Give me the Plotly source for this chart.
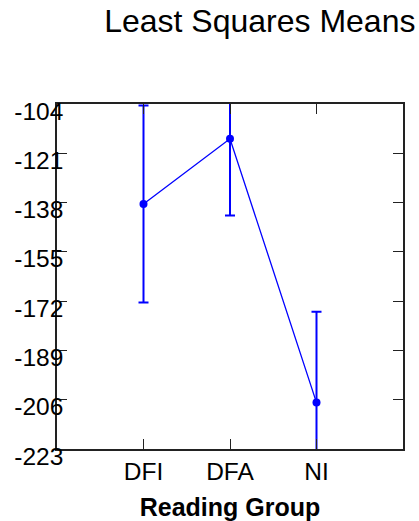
import plotly.graph_objects as go

groups = ["DFI", "DFA", "NI"]
group_pos = [1, 2, 3]
means = [-138.5, -116.0, -207.0]
err = [34.0, 26.5, 31.3]
y_ticks = [-104, -121, -138, -155, -172, -189, -206, -223]

FONT = "Arial, Liberation Sans, sans-serif"
BLUE = "#0000FF"

fig = go.Figure()
fig.add_trace(go.Scatter(
    x=group_pos, y=means, mode="lines+markers",
    line=dict(color=BLUE, width=1.3),
    marker=dict(color=BLUE, size=8),
    error_y=dict(type="data", array=err, visible=True, color=BLUE,
                 thickness=2, width=5),
    cliponaxis=True,
    showlegend=False,
))

axis_common = dict(
    showline=True, linecolor="#222222", linewidth=1.5,
    mirror="ticks", ticks="inside", ticklen=10, tickwidth=1.3,
    tickcolor="#222222", showgrid=False, zeroline=False,
    automargin=False,
    tickfont=dict(family=FONT, size=24.5, color="black"),
)

fig.update_layout(
    width=419, height=521,
    margin=dict(l=57, r=16, t=104, b=72),
    paper_bgcolor="white", plot_bgcolor="white",
    title=dict(text="Least Squares Means", x=0.62, xanchor="center",
               y=0.982, yanchor="top",
               font=dict(family=FONT, size=32, color="black")),
    xaxis=dict(range=[0, 4], tickvals=group_pos, ticktext=groups,
               title=dict(text="<b>Reading Group</b>", standoff=19,
                          font=dict(family=FONT, size=25, color="black")),
               **axis_common),
    yaxis=dict(range=[-223, -104], tickvals=y_ticks,
               ticktext=[str(v) for v in y_ticks],
               ticklabelstandoff=-13, ticklabelshift=7,
               **axis_common),
)

fig.write_html("out.html")
